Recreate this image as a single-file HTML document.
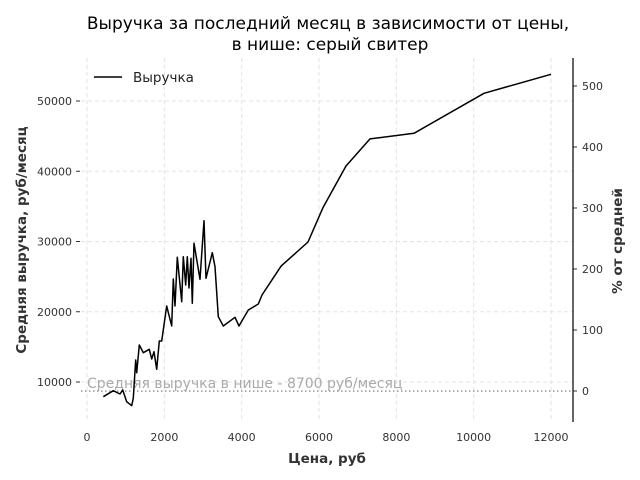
<!DOCTYPE html>
<html><head><meta charset="utf-8"><style>
body{margin:0;background:#fff}
svg{display:block;font-family:"DejaVu Sans","Liberation Sans",sans-serif}
</style></head><body>
<svg id="chart" width="640" height="480" viewBox="0 0 640 480">
<text x="328" y="29" text-anchor="middle" font-size="17" fill="#000">Выручка за последний месяц в зависимости от цены,</text>
<text x="330" y="50" text-anchor="middle" font-size="17" fill="#000">в нише: серый свитер</text>
<g id="grid"></g>
<g id="axes"></g>
<line x1="573" y1="58" x2="573" y2="422" stroke="#000" stroke-width="1.2"/>
<text x="327" y="463" text-anchor="middle" font-size="13.5" font-weight="bold" fill="#333">Цена, руб</text>
<text transform="translate(26,240) rotate(-90)" text-anchor="middle" font-size="13.5" font-weight="bold" fill="#333">Средняя выручка, руб/месяц</text>
<text transform="translate(622,241) rotate(-90)" text-anchor="middle" font-size="13.5" font-weight="bold" fill="#333">% от средней</text>
<g id="series"></g>
<g>
<line x1="94" y1="77" x2="122" y2="77" stroke="#000" stroke-width="1.5"/>
<text x="133" y="82" font-size="13.5" fill="#222">Выручка</text>
</g>
</svg>
<script>
const prices=[422,680,853,923,1027,1156,1197,1259,1285,1352,1456,1611,1673,1733,1802,1870,1932,2061,2190,2232,2276,2335,2449,2490,2552,2594,2638,2690,2723,2767,2922,3025,3077,3240,3310,3395,3525,3827,3931,4171,4430,4526,5020,5715,6100,6698,7318,8456,10266,12000];
const revenue=[7907,8762,8292,8861,7196,6626,7722,13132,11324,15267,14171,14655,13274,14313,11808,15836,15836,20819,17972,24662,20819,27751,21431,27836,23808,27836,23381,27609,21203,29744,24620,32961,24762,28406,26413,19295,17972,19210,17972,20249,21103,22384,26500,29930,34800,40750,44600,45400,51100,53800];
const xTicks=[0,2000,4000,6000,8000,10000,12000];
const yTicks=[10000,20000,30000,40000,50000];
const pctTicks=[0,100,200,300,400,500];
const nicheAvg=8700;
const annotation="Средняя выручка в нише - 8700 руб/месяц";
const NS="http://www.w3.org/2000/svg";
const xs=v=>87+v*(464/12000);
const ys=v=>382-(v-10000)*(281/40000);
const yp=p=>391-p*0.61;
function mk(tag,attrs,parent,txt){const e=document.createElementNS(NS,tag);for(const k in attrs)e.setAttribute(k,attrs[k]);if(txt!==undefined)e.textContent=txt;parent.appendChild(e);return e;}
const grid=document.getElementById('grid'),axes=document.getElementById('axes'),series=document.getElementById('series');
xTicks.forEach(t=>{
 const g=mk('line',{x1:xs(t),x2:xs(t),y1:58,y2:422,stroke:'#e3e3e3','stroke-dasharray':'4,3'},grid);
 
 
 const l=mk('text',{x:xs(t),y:441,'text-anchor':'middle','font-size':'11','fill':'#333'},axes,String(t));
 
 
});
yTicks.forEach(t=>{
 const g=mk('line',{x1:81,x2:573,y1:ys(t),y2:ys(t),stroke:'#e3e3e3','stroke-dasharray':'4,3'},grid);
 
 
 const tk=mk('line',{x1:76,x2:80,y1:ys(t),y2:ys(t),stroke:'#333'},axes);
 
 
 const l=mk('text',{x:72,y:ys(t)+4,'text-anchor':'end','font-size':'11','fill':'#333'},axes,String(t));
 
 
});
pctTicks.forEach(t=>{
 const tk=mk('line',{x1:573,x2:577,y1:yp(t),y2:yp(t),stroke:'#333'},axes);
 
 
 const l=mk('text',{x:582,y:yp(t)+4,'font-size':'11','fill':'#333'},axes,String(t));
 
 
});
const avg=mk('line',{x1:81,x2:573,y1:ys(nicheAvg),y2:ys(nicheAvg),stroke:'#999','stroke-width':'1.5','stroke-dasharray':'1.5,2.5'},series);


const at=mk('text',{x:87,y:ys(nicheAvg)-3,'font-size':'14','fill':'#aaa'},series,annotation);


const pts=prices.map((p,i)=>xs(p).toFixed(1)+','+ys(revenue[i]).toFixed(1)).join(' ');
const pl=mk('polyline',{points:pts,fill:'none',stroke:'#000','stroke-width':'1.5','stroke-linejoin':'round'},series);


</script>
</body></html>
